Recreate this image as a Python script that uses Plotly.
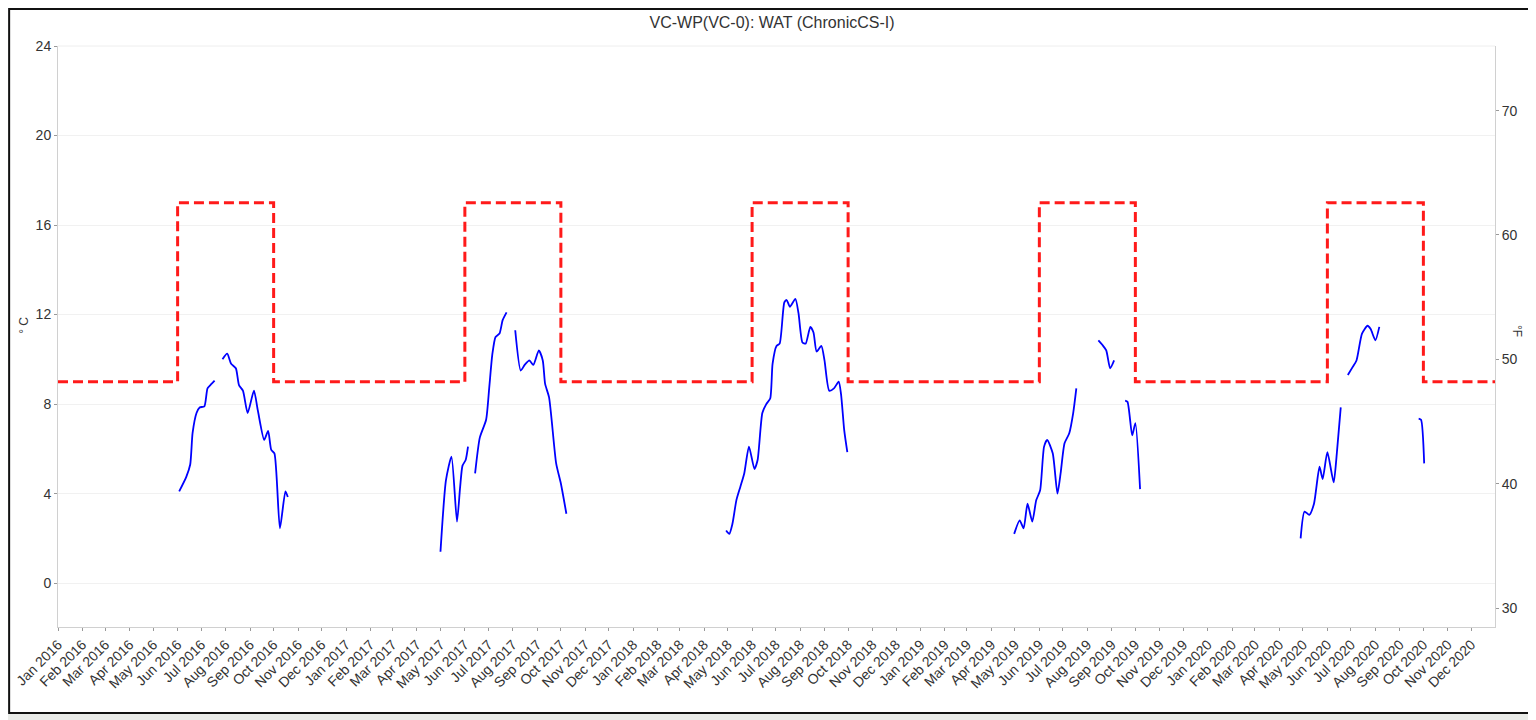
import plotly.graph_objects as go

# measured water temperature (deg C), None = gap in the record
wat_dates = [
    "2016-06-03", "2016-06-12", "2016-06-17", "2016-06-20", "2016-06-25", "2016-06-29",
    "2016-07-05", "2016-07-09", "2016-07-14", "2016-07-18", "2016-07-23",
    "2016-07-28", "2016-08-03", "2016-08-08", "2016-08-14", "2016-08-18", "2016-08-23",
    "2016-08-29", "2016-09-06", "2016-09-11", "2016-09-19", "2016-09-24", "2016-09-28",
    "2016-10-02", "2016-10-09", "2016-10-16", "2016-10-19", "2016-12-01",
    "2017-05-01", "2017-05-08", "2017-05-15", "2017-05-22", "2017-05-26", "2017-05-29",
    "2017-06-02", "2017-06-05", "2017-06-10",
    "2017-06-14", "2017-06-20", "2017-06-28", "2017-07-02", "2017-07-06", "2017-07-10",
    "2017-07-15", "2017-07-19", "2017-07-24", "2017-07-30",
    "2017-08-04", "2017-08-11", "2017-08-16", "2017-08-22", "2017-08-27", "2017-09-03",
    "2017-09-08", "2017-09-11", "2017-09-16", "2017-09-25", "2017-10-01", "2017-10-08",
    "2017-12-01",
    "2018-04-29", "2018-05-03", "2018-05-07", "2018-05-12", "2018-05-17", "2018-05-22",
    "2018-05-28", "2018-06-04", "2018-06-08", "2018-06-14", "2018-06-19", "2018-06-24",
    "2018-06-27", "2018-07-02", "2018-07-06", "2018-07-12", "2018-07-15", "2018-07-19",
    "2018-07-26", "2018-07-30", "2018-08-04", "2018-08-08", "2018-08-14", "2018-08-18",
    "2018-08-22", "2018-08-28", "2018-09-01", "2018-09-07", "2018-09-13", "2018-09-19",
    "2018-09-22", "2018-09-26", "2018-09-30", "2018-12-01",
    "2019-04-30", "2019-05-07", "2019-05-12", "2019-05-17", "2019-05-23", "2019-05-28",
    "2019-06-02", "2019-06-07", "2019-06-11", "2019-06-18", "2019-06-24", "2019-06-28",
    "2019-07-03", "2019-07-09", "2019-07-14", "2019-07-18", "2019-08-01",
    "2019-08-15", "2019-08-20", "2019-08-25", "2019-08-30", "2019-09-04", "2019-09-11",
    "2019-09-18", "2019-09-21", "2019-09-27", "2019-10-01", "2019-10-07", "2019-12-01",
    "2020-04-28", "2020-05-03", "2020-05-09", "2020-05-15", "2020-05-22", "2020-05-26",
    "2020-06-01", "2020-06-09", "2020-06-13", "2020-06-18", "2020-06-22",
    "2020-06-27", "2020-07-03", "2020-07-08", "2020-07-15", "2020-07-22", "2020-07-26",
    "2020-08-01", "2020-08-06", "2020-09-01",
    "2020-09-25", "2020-09-28", "2020-10-02",
]
wat_c = [
    4.1, 4.75, 5.3, 6.7, 7.6, 7.85,
    7.9, 8.7, 8.9, 9.05, None,
    10.0, 10.25, 9.8, 9.6, 8.85, 8.6,
    7.6, 8.6, 7.7, 6.4, 6.8, 5.95,
    5.8, 2.45, 4.1, 3.85, None,
    1.4, 4.6, 5.65, 2.75, 4.3, 5.25,
    5.5, 6.1, None,
    4.9, 6.5, 7.3, 8.75, 10.25, 11.0,
    11.15, 11.75, 12.1, None,
    11.3, 9.5, 9.75, 9.95, 9.75, 10.4,
    9.95, 8.9, 8.3, 5.35, 4.45, 3.1,
    None,
    2.35, 2.2, 2.65, 3.7, 4.3, 4.9,
    6.1, 5.1, 5.5, 7.6, 8.0, 8.25,
    9.8, 10.6, 10.7, 12.55, 12.65, 12.35,
    12.7, 12.05, 10.75, 10.7, 11.45, 11.2,
    10.35, 10.6, 9.95, 8.6, 8.7, 9.0,
    8.45, 6.85, 5.85, None,
    2.2, 2.8, 2.45, 3.55, 2.75, 3.7,
    4.15, 6.1, 6.4, 5.8, 4.0, 4.9,
    6.25, 6.7, 7.6, 8.7, None,
    10.85, 10.65, 10.4, 9.6, 9.95, None,
    8.15, 8.1, 6.6, 7.15, 4.2, None,
    2.0, 3.2, 3.05, 3.55, 5.2, 4.65,
    5.85, 4.5, 5.8, 7.85, None,
    9.3, 9.65, 9.95, 11.15, 11.5, 11.35,
    10.85, 11.45, None,
    7.35, 7.3, 5.35,
]

# chronic criterion: 17 C summer (Jun-Sep), 9 C otherwise
crit_dates = [
    "2016-01-01", "2016-06-01", "2016-10-01",
    "2017-06-01", "2017-10-01",
    "2018-06-01", "2018-10-01",
    "2019-06-01", "2019-10-01",
    "2020-06-01", "2020-10-01", "2020-12-31",
]
crit_c = [9, 17, 9, 17, 9, 17, 9, 17, 9, 17, 9, 9]

y_lo, y_hi = -1.96, 24.0
f_lo, f_hi = y_lo * 9 / 5 + 32, y_hi * 9 / 5 + 32

font = "Liberation Sans, Arial, sans-serif"

fig = go.Figure()
fig.add_trace(go.Scatter(x=crit_dates, y=crit_c, mode="lines", line_shape="hv",
                         line=dict(color="#ff1a1a", width=3, dash="10px,5px"),
                         showlegend=False, hoverinfo="skip"))
fig.add_trace(go.Scatter(x=wat_dates, y=wat_c, mode="lines", connectgaps=False,
                         line=dict(color="#0000ff", width=1.8, shape="spline", smoothing=0.6),
                         showlegend=False))
# invisible trace so the deg F axis is drawn
fig.add_trace(go.Scatter(x=["2016-01-01"], y=[50], yaxis="y2", mode="markers",
                         marker=dict(opacity=0), showlegend=False, hoverinfo="skip"))

fig.update_layout(
    width=1528, height=712,
    margin=dict(l=50, r=41, t=38, b=93),
    paper_bgcolor="#e9ebe8", plot_bgcolor="white",
    font=dict(family=font, color="#333333"),
    title=dict(text="VC-WP(VC-0): WAT (ChronicCS-I)", x=0.5, xanchor="center",
               y=0.98, yanchor="middle", font=dict(size=16, color="#333333")),
    xaxis=dict(type="date", range=["2016-01-01", "2020-12-31"], automargin=False,
               tickmode="linear", tick0="2016-01-01", dtick="M1", tickformat="%b %Y",
               tickangle=-45, tickfont=dict(size=14, color="#333333"),
               ticks="outside", ticklen=3, tickcolor="#999999",
               showgrid=False, zeroline=False,
               showline=True, linecolor="#d0d0d0", linewidth=1),
    yaxis=dict(range=[y_lo, y_hi], automargin=False, tickmode="linear", tick0=0, dtick=4,
               tickfont=dict(size=14, color="#333333"),
               ticks="outside", ticklen=3, tickcolor="#999999",
               showgrid=True, gridcolor="#f1f1f1", gridwidth=1, zeroline=False,
               showline=True, linecolor="#d0d0d0", linewidth=1),
    yaxis2=dict(range=[f_lo, f_hi], automargin=False, overlaying="y", side="right",
                tickmode="linear", tick0=30, dtick=10,
                tickfont=dict(size=14, color="#333333"),
                ticks="outside", ticklen=3, tickcolor="#999999",
                showgrid=False, zeroline=False,
                showline=True, linecolor="#d0d0d0", linewidth=1),
    shapes=[
        dict(type="rect", xref="paper", yref="paper", layer="below",
             x0=-0.034, x1=1.04, y0=-0.148, y1=1.0637,
             fillcolor="white", line=dict(color="#111111", width=2)),
        dict(type="line", xref="paper", yref="paper", layer="above",
             x0=0, x1=1, y0=1, y1=1, line=dict(color="#eeeeee", width=1)),
    ],
    annotations=[
        dict(text="° C", xref="paper", yref="paper", x=-0.03, y=0.52,
             textangle=-90, showarrow=False, font=dict(size=12, color="#333333")),
        dict(text="°F", xref="paper", yref="paper", x=1.022, y=0.51,
             textangle=90, showarrow=False, font=dict(size=12, color="#333333")),
    ],
)

fig.write_html("out.html")
